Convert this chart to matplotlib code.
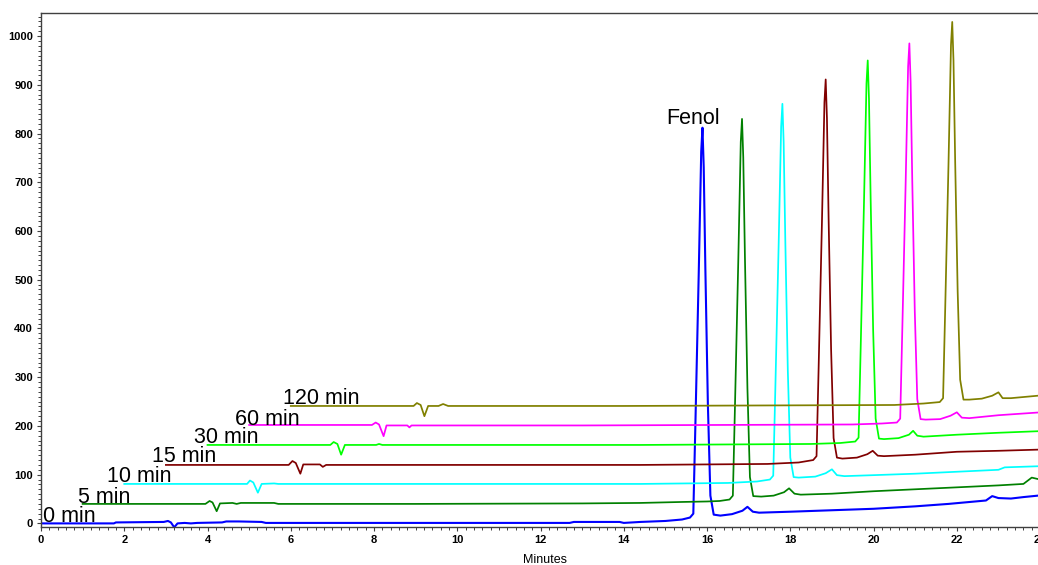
import matplotlib
matplotlib.use("Agg")
import matplotlib.pyplot as plt
from matplotlib.ticker import MultipleLocator

plt.rcParams['font.family'] = ['Liberation Sans', 'DejaVu Sans']

# Chromatograms: time after injection (min) and detector signal for each sampling time
t_0min = [0, 1.75, 1.8, 2.95, 3.05, 3.12, 3.2, 3.28, 3.45, 3.6, 3.75, 4.35, 4.45, 4.75, 5.3, 5.4,
          8.0, 12.7, 12.8, 13.9, 14.0, 14.4, 15.0, 15.4,
          15.59, 15.67, 15.72, 15.80, 15.86, 15.89, 15.92, 15.96, 16.02, 16.08, 16.16,
          16.32, 16.6, 16.85, 16.97, 17.1, 17.25, 18.0, 19.0, 20.0, 21.0, 21.8, 22.7, 22.85,
          23.0, 23.3, 23.6, 24.3]
s_0min = [0, 0, 2, 3, 5, 2, -8, 0, 1, 0, 1, 2, 4, 4, 3, 1,
          1, 1, 3, 3, 1, 3, 5, 8,
          12, 20, 203, 512, 763, 812, 731, 520, 244, 57, 18,
          16, 19, 26, 34, 24, 22, 24, 27, 30, 35, 40, 47, 56,
          52, 51, 54, 60]

t_5min = [0, 2.95, 3.05, 3.12, 3.22, 3.3, 3.6, 3.7, 3.8, 4.6, 4.7, 8.0, 12.0, 13.4, 14.4, 15.0, 15.3,
          15.54, 15.62, 15.67, 15.75, 15.81, 15.84, 15.87, 15.91, 15.97, 16.03, 16.11,
          16.3, 16.6, 16.85, 16.97, 17.1, 17.25, 18.0, 19.0, 20.0, 21.0, 22.0, 22.6, 22.8,
          22.95, 23.3]
s_5min = [0, 0, 6, 3, -15, 1, 2, 0, 2, 2, 0, 0, 1, 2, 4, 5, 6,
          9, 17, 198, 498, 743, 790, 711, 506, 237, 55, 16,
          15, 17, 24, 32, 21, 19, 21, 26, 30, 34, 38, 41, 54,
          51, 51]

t_10min = [0, 2.95, 3.02, 3.1, 3.21, 3.3, 3.6, 3.7, 8.0, 12.4, 14.5, 15.2,
           15.51, 15.59, 15.64, 15.72, 15.78, 15.81, 15.84, 15.88, 15.94, 16.00, 16.08,
           16.2, 16.6, 16.85, 17.0, 17.12, 17.3, 18.0, 19.0, 20.0, 21.0, 21.15, 22.2]
s_10min = [1, 1, 8, 4, -17, 1, 2, 1, 1, 1, 3, 6,
           10, 18, 195, 492, 734, 781, 703, 500, 234, 55, 15,
           14, 16, 23, 31, 19, 17, 19, 22, 26, 30, 35, 38]

t_15min = [0, 2.95, 3.04, 3.12, 3.23, 3.3, 3.7, 3.77, 3.85, 8.0, 11.4, 14.45, 15.2,
           15.55, 15.63, 15.68, 15.76, 15.82, 15.85, 15.88, 15.92, 15.98, 16.04, 16.12,
           16.25, 16.6, 16.85, 16.98, 17.1, 17.25, 18.0, 19.0, 20.0, 21.2]
s_15min = [0, 0, 8, 4, -18, 1, 1, -4, 0, 0, 0, 2, 5,
           10, 18, 198, 498, 744, 791, 712, 506, 237, 55, 15,
           13, 15, 22, 29, 19, 18, 21, 27, 29, 32]

t_30min = [0, 2.95, 3.03, 3.12, 3.21, 3.3, 4.05, 4.12, 4.2, 8.0, 10.4, 14.5, 15.2,
           15.56, 15.64, 15.69, 15.77, 15.83, 15.86, 15.89, 15.93, 15.99, 16.05, 16.13,
           16.25, 16.6, 16.85, 16.95, 17.05, 17.2, 18.0, 19.0, 20.2]
s_30min = [1, 1, 7, 3, -19, 1, 1, 3, 1, 1, 1, 3, 5,
           8, 16, 198, 498, 743, 790, 711, 506, 237, 55, 14,
           13, 15, 22, 30, 20, 18, 22, 26, 30]

t_60min = [0, 2.95, 3.04, 3.12, 3.23, 3.3, 3.8, 3.85, 3.9, 8.0, 14.5, 15.2,
           15.56, 15.64, 15.69, 15.77, 15.83, 15.86, 15.89, 15.93, 15.99, 16.05, 16.13,
           16.25, 16.6, 16.85, 17.0, 17.12, 17.3, 18.0, 19.2]
s_60min = [2, 2, 7, 3, -21, 1, 1, -3, 1, 1, 3, 5,
           7, 15, 196, 495, 738, 785, 707, 502, 236, 55, 14,
           13, 14, 21, 28, 17, 16, 22, 29]

t_120min = [0, 2.95, 3.03, 3.12, 3.21, 3.3, 3.55, 3.66, 3.78, 8.0, 14.5, 15.2,
            15.59, 15.67, 15.72, 15.80, 15.86, 15.89, 15.92, 15.96, 16.02, 16.08, 16.16,
            16.3, 16.6, 16.85, 17.0, 17.1, 17.3, 18.2]
s_120min = [1, 1, 7, 3, -20, 1, 1, 5, 1, 1, 3, 6,
            9, 17, 197, 497, 742, 789, 710, 505, 237, 55, 14,
            14, 16, 22, 29, 17, 17, 24]

trace_labels = ["0 min", "5 min", "10 min", "15 min", "30 min", "60 min", "120 min"]
trace_times = [t_0min, t_5min, t_10min, t_15min, t_30min, t_60min, t_120min]
trace_signals = [s_0min, s_5min, s_10min, s_15min, s_30min, s_60min, s_120min]
trace_colors = ["#0000ff", "#008000", "#00ffff", "#800000", "#00ff00", "#ff00ff", "#808000"]

peak_name = "Fenol"

# stacked display: each run shifted right and up
x_step = 1.0
y_step = 40.0
label_x = [0.05, 0.90, 1.58, 2.66, 3.68, 4.65, 5.81]
label_dy = [3, 2, 5, 6, 5, 1, 6]

fig = plt.figure(figsize=(10.38, 5.65), dpi=100)
ax = fig.add_axes([41 / 1038, (565 - 527.3) / 565, 1007.4 / 1038, (527.3 - 12.7) / 565])

for i, (t, s, c, lab) in enumerate(zip(trace_times, trace_signals, trace_colors, trace_labels)):
    xs = [v + i * x_step for v in t]
    ys = [v + i * y_step for v in s]
    ax.plot(xs, ys, color=c, lw=1.5 if i == 0 else 1.25, solid_joinstyle='round', zorder=2 + i)
    ax.text(label_x[i], i * y_step + label_dy[i], lab, fontsize=15.5, ha='left', va='baseline',
            color='black', zorder=20)

ax.text(15.02, 819, peak_name, fontsize=15.5, ha='left', va='baseline', color='black', zorder=20)

ax.set_xlim(0, 24.2)
ax.set_ylim(-8, 1048)
ax.xaxis.set_major_locator(MultipleLocator(2))
ax.xaxis.set_minor_locator(MultipleLocator(0.2))
ax.yaxis.set_major_locator(MultipleLocator(100))
ax.yaxis.set_minor_locator(MultipleLocator(10))

ax.tick_params(which='major', direction='out', length=3.2, width=0.8, color='#404040',
               labelsize=8, pad=2.5)
ax.tick_params(which='minor', direction='out', length=2.0, width=0.7, color='#404040')
for lbl in ax.get_xticklabels() + ax.get_yticklabels():
    lbl.set_fontweight('bold')

for side in ['left', 'bottom', 'top', 'right']:
    ax.spines[side].set_color('#404040')
    ax.spines[side].set_linewidth(1.0)

ax.set_xlabel("Minutes", fontsize=9, labelpad=6.5)

fig.savefig("out.png", dpi=100)
